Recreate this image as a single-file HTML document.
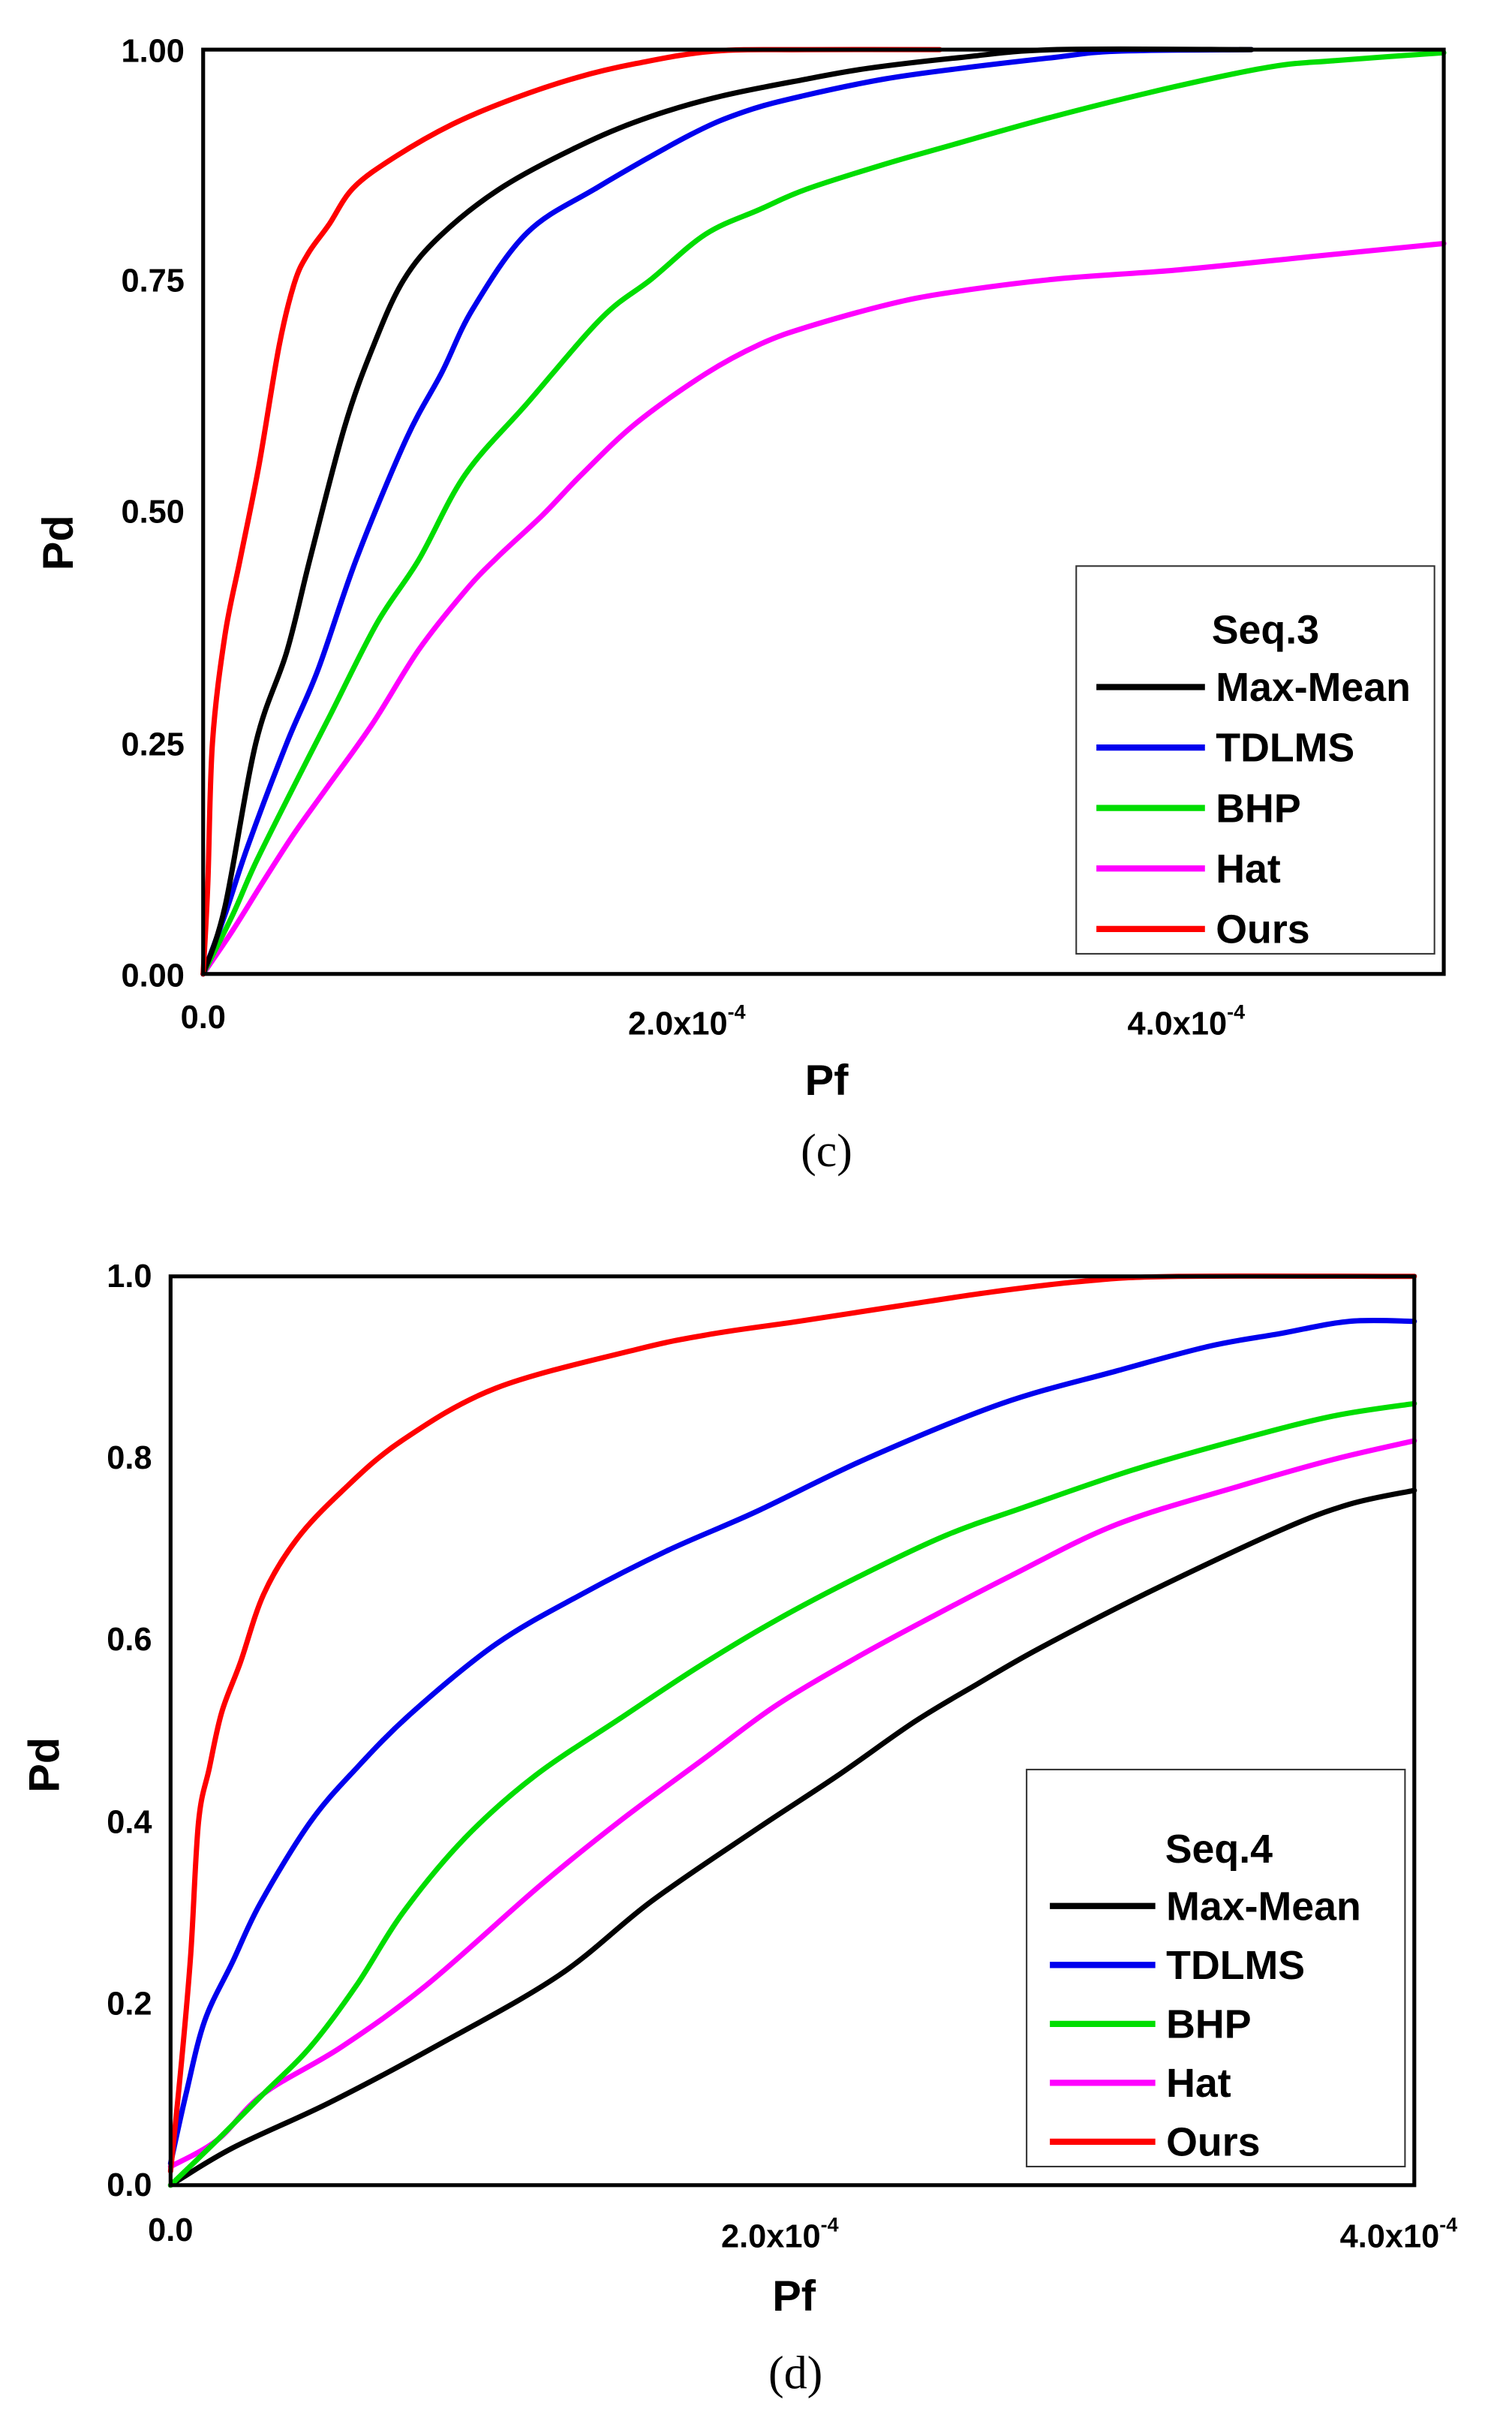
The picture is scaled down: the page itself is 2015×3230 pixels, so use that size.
<!DOCTYPE html>
<html><head><meta charset="utf-8"><style>html,body{margin:0;padding:0;background:#fff}svg{display:block}</style></head>
<body>
<svg id="s" width="2015" height="3230" viewBox="0 0 975 1563" preserveAspectRatio="none" xmlns="http://www.w3.org/2000/svg" font-family="Liberation Sans, Arial, sans-serif">
<rect width="975" height="1563" fill="#fff"/>
<!-- TOP CHART -->
<g fill="none" stroke-width="3.4" stroke-linejoin="round" stroke-linecap="round">
<polyline stroke="#ff00ff" points="131,628 150,600 170,568 190,537 210,509 240,467 270,419 300,381 320,360 350,332 375,306 410,273 455,241 490,222 520,211 570,197 610,189 680,180 760,174 850,165 931,157"/>
<polyline stroke="#00dd00" points="131,628 150,590 165,556 190,506 213,461 243,402 270,361 300,306 340,260 388,205 420,180 455,151 490,135 520,122 570,106 612,94 680,75 757,56 820,43 862,39 931,34"/>
<polyline stroke="#0000ee" points="131,628 145,590 160,545 185,479 205,432 230,360 262,283 285,240 305,199 340,150 385,121 445,87 480,72 517,62 570,51 620,44 680,37 720,33 807,32"/>
<polyline stroke="#000" points="131,628 145,585 165,479 185,420 200,360 222,276 240,225 260,181 285,151 325,120 378,92 420,75 465,62 520,51 560,44 620,37 680,32 807,32"/>
<polyline stroke="#ff0000" points="131,628 134,570 137,479 145,410 155,360 167,300 180,223 190,182 199,163 212,145 228,121 255,101 292,80 330,64 372,50 410,41 460,33 520,32 606,32"/>
</g>
<rect x="131" y="32" width="800" height="596" fill="none" stroke="#000" stroke-width="2.5"/>
<g font-weight="bold" font-size="21" text-anchor="end" fill="#000">
<text x="119" y="40">1.00</text><text x="119" y="188">0.75</text><text x="119" y="337">0.50</text><text x="119" y="487">0.25</text><text x="119" y="636">0.00</text>
</g>
<g font-weight="bold" font-size="21" fill="#000">
<text x="131" y="663" text-anchor="middle">0.0</text>
<text x="405" y="667">2.0x10<tspan font-size="13" dy="-10">-4</tspan></text>
<text x="727" y="667">4.0x10<tspan font-size="13" dy="-10">-4</tspan></text>
<text x="533" y="706" font-size="28" text-anchor="middle">Pf</text>
<text transform="translate(47,350) rotate(-90)" font-size="28" text-anchor="middle">Pd</text>
</g>
<text x="533" y="752" font-family="Liberation Serif, serif" font-size="30" text-anchor="middle">(c)</text>
<rect x="694" y="365" width="231" height="250" fill="#fff" stroke="#333" stroke-width="1"/>
<g font-weight="bold" font-size="26" fill="#000">
<text x="816" y="415" text-anchor="middle">Seq.3</text>
<text x="784" y="452">Max-Mean</text><text x="784" y="491">TDLMS</text><text x="784" y="530">BHP</text><text x="784" y="569">Hat</text><text x="784" y="608">Ours</text>
</g>
<g stroke-width="4">
<line x1="707" y1="443" x2="777" y2="443" stroke="#000"/>
<line x1="707" y1="482" x2="777" y2="482" stroke="#0000ee"/>
<line x1="707" y1="521" x2="777" y2="521" stroke="#00dd00"/>
<line x1="707" y1="560" x2="777" y2="560" stroke="#ff00ff"/>
<line x1="707" y1="599" x2="777" y2="599" stroke="#ff0000"/>
</g>
<!-- BOTTOM CHART -->
<g fill="none" stroke-width="3.4" stroke-linejoin="round" stroke-linecap="round">
<polyline stroke="#000" points="110,1409 150,1385 212,1356 280,1320 360,1274 420,1226 487,1180 540,1145 590,1110 630,1086 670,1063 740,1027 825,987 870,970 912,961"/>
<polyline stroke="#ff00ff" points="110,1397 140,1380 170,1350 220,1320 275,1280 348,1216 400,1174 454,1134 500,1100 552,1069 600,1043 652,1016 720,983 800,958 860,941 912,929"/>
<polyline stroke="#00dd00" points="110,1409 140,1380 170,1350 200,1320 230,1280 260,1233 300,1185 345,1145 400,1108 450,1075 500,1045 555,1016 610,990 660,972 730,948 800,928 860,913 912,905"/>
<polyline stroke="#0000ee" points="110,1395 120,1350 132,1303 150,1265 168,1227 200,1175 230,1140 266,1104 320,1060 375,1028 430,1000 487,975 560,940 646,905 720,884 780,868 825,860 870,852 912,852"/>
<polyline stroke="#ff0000" points="110,1400 117,1330 123,1260 128,1175 135,1140 143,1104 155,1072 170,1028 191,993 220,962 259,929 320,895 411,870 460,860 515,852 580,842 640,833 700,826 760,823 912,823"/>
</g>
<rect x="110" y="823" width="802" height="586" fill="none" stroke="#000" stroke-width="2.5"/>
<g font-weight="bold" font-size="21" text-anchor="end" fill="#000">
<text x="98" y="830">1.0</text><text x="98" y="947">0.8</text><text x="98" y="1064">0.6</text><text x="98" y="1182">0.4</text><text x="98" y="1299">0.2</text><text x="98" y="1416">0.0</text>
</g>
<g font-weight="bold" font-size="21" fill="#000">
<text x="110" y="1445" text-anchor="middle">0.0</text>
<text x="465" y="1449">2.0x10<tspan font-size="13" dy="-10">-4</tspan></text>
<text x="864" y="1449">4.0x10<tspan font-size="13" dy="-10">-4</tspan></text>
<text x="512" y="1490" font-size="28" text-anchor="middle">Pf</text>
<text transform="translate(38,1138) rotate(-90)" font-size="28" text-anchor="middle">Pd</text>
</g>
<text x="513" y="1540" font-family="Liberation Serif, serif" font-size="30" text-anchor="middle">(d)</text>
<rect x="662" y="1141" width="244" height="256" fill="#fff" stroke="#333" stroke-width="1"/>
<g font-weight="bold" font-size="26" fill="#000">
<text x="786" y="1201" text-anchor="middle">Seq.4</text>
<text x="752" y="1238">Max-Mean</text><text x="752" y="1276">TDLMS</text><text x="752" y="1314">BHP</text><text x="752" y="1352">Hat</text><text x="752" y="1390">Ours</text>
</g>
<g stroke-width="4">
<line x1="677" y1="1229" x2="745" y2="1229" stroke="#000"/>
<line x1="677" y1="1267" x2="745" y2="1267" stroke="#0000ee"/>
<line x1="677" y1="1305" x2="745" y2="1305" stroke="#00dd00"/>
<line x1="677" y1="1343" x2="745" y2="1343" stroke="#ff00ff"/>
<line x1="677" y1="1381" x2="745" y2="1381" stroke="#ff0000"/>
</g>
</svg>
<script>
(function(){
var NS="http://www.w3.org/2000/svg";
document.querySelectorAll("polyline").forEach(function(pl){
  var p=pl.getAttribute("points").trim().split(/\s+/).map(function(s){var a=s.split(",");return [+a[0],+a[1]];});
  var d="M"+p[0][0]+","+p[0][1];
  for(var i=0;i<p.length-1;i++){
    var p0=p[i-1]||p[i],p1=p[i],p2=p[i+1],p3=p[i+2]||p2;
    var c1=[p1[0]+(p2[0]-p0[0])/6,p1[1]+(p2[1]-p0[1])/6];
    var c2=[p2[0]-(p3[0]-p1[0])/6,p2[1]-(p3[1]-p1[1])/6];
    d+=" C"+c1[0].toFixed(2)+","+c1[1].toFixed(2)+" "+c2[0].toFixed(2)+","+c2[1].toFixed(2)+" "+p2[0]+","+p2[1];
  }
  var path=document.createElementNS(NS,"path");
  path.setAttribute("d",d);path.setAttribute("stroke",pl.getAttribute("stroke"));
  pl.parentNode.replaceChild(path,pl);
});
})();
</script>
</body></html>
